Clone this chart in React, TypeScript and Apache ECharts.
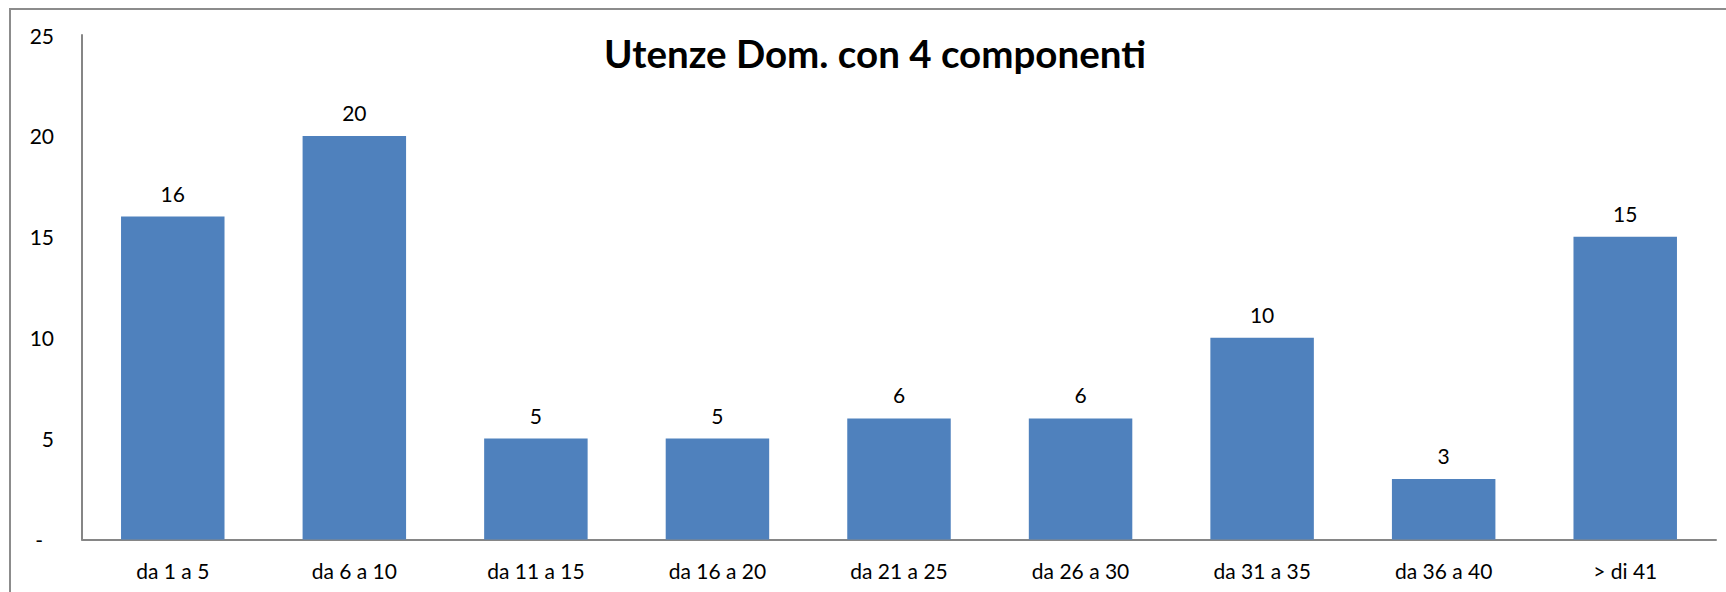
import React, { useEffect, useRef } from "react";
import * as echarts from "echarts";

const categories = ["da 1 a 5", "da 6 a 10", "da 11 a 15", "da 16 a 20", "da 21 a 25", "da 26 a 30", "da 31 a 35", "da 36 a 40", "> di 41"];
const values = [16, 20, 5, 5, 6, 6, 10, 3, 15];
const titleText = "Utenze Dom. con 4 componenti";
const yMin = 0;
const yMax = 25;
const yInterval = 5;

export default function App() {
  const ref = useRef<HTMLDivElement>(null);
  useEffect(() => {
    document.body.style.margin = "0";
    const chart = echarts.init(ref.current!, null, { renderer: "svg" });
    const font = "Lato, 'Open Sans', sans-serif";
    chart.setOption({
      animation: false,
      backgroundColor: "#ffffff",
      textStyle: { fontFamily: font },
      grid: { left: 82, top: 35, right: 10, bottom: 52.5, containLabel: false },
      graphic: [
        {
          type: "rect",
          shape: { x: 10, y: 9, width: 1740, height: 600 },
          style: { fill: "none", stroke: "#8c8c8c", lineWidth: 2 },
          z: 100,
        },
        {
          type: "text",
          x: 875,
          y: 53,
          style: {
            text: titleText,
            fontFamily: font,
            fontWeight: "bold",
            fontSize: 38.5,
            fill: "#000000",
            textAlign: "center",
            textVerticalAlign: "middle",
          },
        },
      ],
      xAxis: {
        type: "category",
        data: categories,
        axisLine: { show: true, lineStyle: { color: "#868686", width: 2 } },
        axisTick: { show: false },
        axisLabel: { color: "#000000", fontSize: 21, margin: 20, fontFamily: font },
      },
      yAxis: {
        type: "value",
        min: yMin,
        max: yMax,
        interval: yInterval,
        axisLine: { show: true, lineStyle: { color: "#868686", width: 2 } },
        axisTick: { show: false },
        splitLine: { show: false },
        axisLabel: {
          color: "#000000",
          fontSize: 21,
          margin: 28,
          fontFamily: font,
          formatter: (v: number) => (v === 0 ? "{d|-}" : String(v)),
          rich: { d: { padding: [0, 11, 0, 0], fontSize: 21, color: "#000000", fontFamily: font } },
        },
      },
      series: [
        {
          type: "bar",
          data: values,
          barCategoryGap: "43%",
          itemStyle: { color: "#4F81BD" },
          label: {
            show: true,
            position: "top",
            distance: 13,
            color: "#000000",
            fontSize: 21,
            fontFamily: font,
          },
        },
      ],
    });
    return () => chart.dispose();
  }, []);
  return <div ref={ref} style={{ width: 1726, height: 592 }} />;
}
